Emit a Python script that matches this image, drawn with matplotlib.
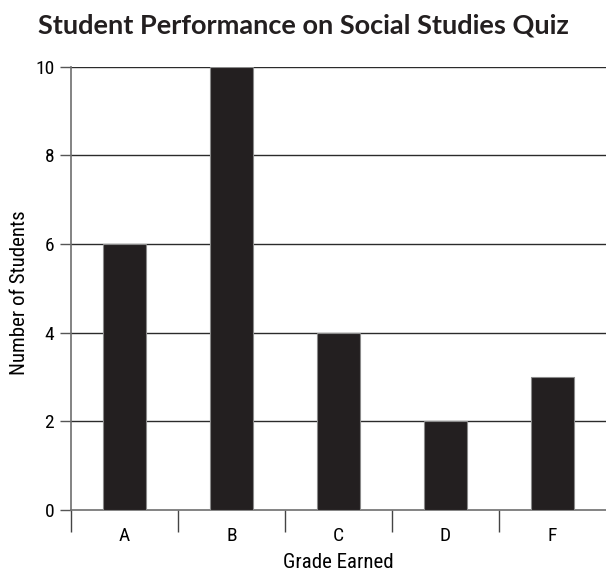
import matplotlib
matplotlib.use('Agg')
import matplotlib.pyplot as plt
from matplotlib.ticker import FixedLocator

grades = ['A', 'B', 'C', 'D', 'F']
students = [6, 10, 4, 2, 3]
yticks = [0, 2, 4, 6, 8, 10]

narrow = ['Roboto Condensed', 'Archivo Narrow', 'Liberation Sans Narrow', 'DejaVu Sans']
title_font = ['Lato', 'DejaVu Sans']

fig = plt.figure(figsize=(6.06, 5.74), dpi=100)
ax = fig.add_axes([0.117, 0.1115, 0.883, 0.772])

x = list(range(len(grades)))
ax.bar(x, students, width=0.4, color='#231f20', edgecolor='#8a8a8a', linewidth=0.8, zorder=3)

ax.set_xlim(-0.5, len(grades) - 0.5)
ax.set_ylim(0, 10)

# gridlines
for y in yticks[1:]:
    ax.axhline(y, color='#2b2b2b', linewidth=1.0, zorder=1)

for s in ['top', 'right']:
    ax.spines[s].set_visible(False)
ax.spines['left'].set_color('#6e6e6e')
ax.spines['bottom'].set_color('#6e6e6e')
ax.spines['left'].set_linewidth(1.2)
ax.spines['bottom'].set_linewidth(1.2)
ax.spines['left'].set_zorder(4)

ax.set_yticks(yticks)
ax.set_yticklabels([str(v) for v in yticks], family=narrow, fontsize=14)
ax.tick_params(axis='y', length=8, width=1, color='#555555', pad=4)

# boundary ticks (major, no labels), category labels (minor)
ax.xaxis.set_major_locator(FixedLocator([i - 0.5 for i in x]))
ax.set_xticklabels([])
ax.xaxis.set_minor_locator(FixedLocator(x))
ax.set_xticklabels(grades, minor=True, family=narrow, fontsize=14)
ax.tick_params(axis='x', which='major', length=16, width=1, color='#444444')
ax.tick_params(axis='x', which='minor', length=0, pad=12)

ax.set_xlabel('Grade Earned', family=narrow, fontsize=15, labelpad=6)
fig.text(0.033, 0.49, 'Number of Students', rotation=90, ha='center', va='center',
         family=narrow, fontsize=15)

fig.text(0.5, 0.9425, 'Student Performance on Social Studies Quiz', ha='center', va='baseline',
         fontsize=19.5, fontweight='bold', family=title_font, color='#231f20')

fig.savefig('out.png', dpi=100)
